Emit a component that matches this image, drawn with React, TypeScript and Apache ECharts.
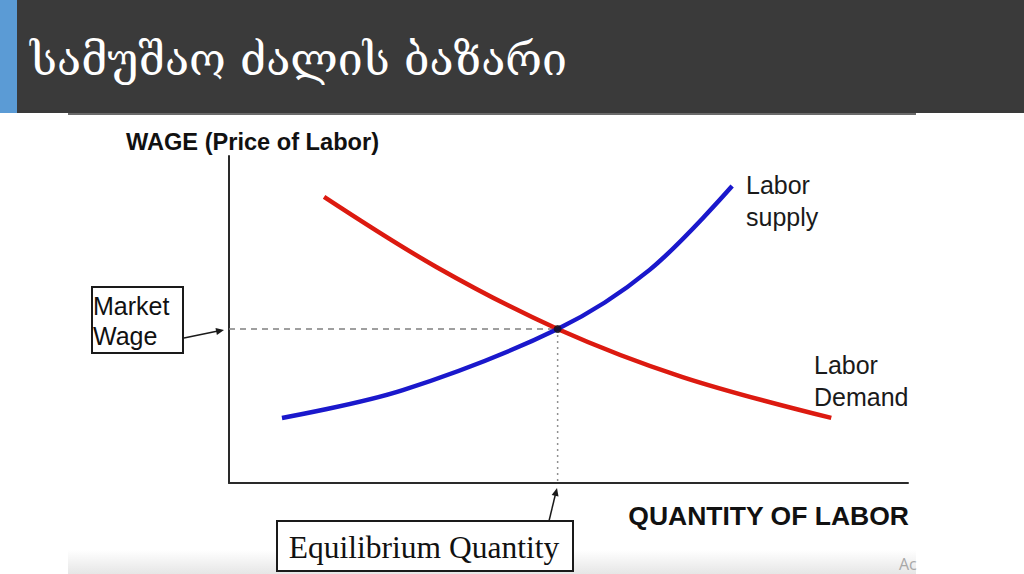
import React, { useEffect, useRef } from "react";
import * as echarts from "echarts";

const titleText = "სამუშაო ძალის ბაზარი";
const yAxisTitle = "WAGE (Price of Labor)";
const xAxisTitle = "QUANTITY OF LABOR";
const supplyLabel = ["Labor", "supply"];
const demandLabel = ["Labor", "Demand"];
const marketWageLabel = ["Market", "Wage"];
const eqQuantityLabel = "Equilibrium Quantity";
const watermark = "Ac";

const demandQty = [14.0, 30.6, 48.4, 66.8, 88.7];
const demandWage = [87.5, 66.0, 47.1, 32.4, 19.9];
const supplyQty = [7.8, 25.6, 48.4, 61.9, 74.1];
const supplyWage = [19.9, 28.4, 47.1, 65.1, 90.8];
const eqQty = 48.4;
const eqWage = 47.1;

const SANS = '"Liberation Sans", Arial, sans-serif';
const SERIF = '"Liberation Serif", "Times New Roman", serif';

export default function App() {
  const ref = useRef<HTMLDivElement>(null);
  useEffect(() => {
    if (!ref.current) return;
    const chart = echarts.init(ref.current, null, { renderer: "svg" });
    const zip = (xs: number[], ys: number[]) => xs.map((x, i) => [x, ys[i]]);
    const option: any = {
      animation: false,
      backgroundColor: "#ffffff",
      grid: { left: 229, top: 156, right: 116, bottom: 91, containLabel: false },
      xAxis: {
        type: "value",
        min: 0,
        max: 100,
        axisLine: { show: true, lineStyle: { color: "#2a2a2a", width: 2 } },
        axisTick: { show: false },
        axisLabel: { show: false },
        splitLine: { show: false },
      },
      yAxis: {
        type: "value",
        min: 0,
        max: 100,
        axisLine: { show: true, lineStyle: { color: "#2a2a2a", width: 2 } },
        axisTick: { show: false },
        axisLabel: { show: false },
        splitLine: { show: false },
      },
      series: [
        {
          type: "line",
          data: [[0, eqWage], [eqQty, eqWage]],
          symbol: "none",
          lineStyle: { color: "#808080", width: 1.5, type: [6, 5] },
          z: 1,
        },
        {
          type: "line",
          data: [[eqQty, eqWage], [eqQty, 0]],
          symbol: "none",
          lineStyle: { color: "#909090", width: 1.5, type: [2, 4] },
          z: 1,
        },
        {
          name: "Labor Demand",
          type: "line",
          data: zip(demandQty, demandWage),
          smooth: 0.35,
          symbol: "none",
          lineStyle: { color: "#dc1a10", width: 4.5, cap: "butt" },
          z: 3,
        },
        {
          name: "Labor supply",
          type: "line",
          data: zip(supplyQty, supplyWage),
          smooth: 0.35,
          symbol: "none",
          lineStyle: { color: "#1a18cc", width: 4.5, cap: "butt" },
          z: 4,
        },
        {
          type: "scatter",
          data: [[eqQty, eqWage]],
          symbolSize: 8,
          itemStyle: { color: "#111111" },
          z: 5,
        },
      ],
      graphic: [
        { type: "rect", shape: { x: 0, y: 0, width: 1024, height: 113 }, style: { fill: "#3a3a3a" }, z: 0 },
        { type: "rect", shape: { x: 0, y: 0, width: 17, height: 113 }, style: { fill: "#5b9bd5" }, z: 1 },
        { type: "rect", shape: { x: 68, y: 113, width: 848, height: 2 }, style: { fill: "#6a6a6a" }, z: 1 },
        {
          type: "text",
          x: 30,
          y: 60,
          style: {
            text: titleText,
            fill: "#ffffff",
            font: '44.6px "DejaVu Serif", serif',
            textVerticalAlign: "middle",
          },
          z: 2,
        },
        {
          type: "rect",
          shape: { x: 68, y: 550, width: 848, height: 24 },
          style: {
            fill: new echarts.graphic.LinearGradient(0, 0, 0, 1, [
              { offset: 0, color: "#ffffff" },
              { offset: 1, color: "#e6e6e6" },
            ]),
          },
          z: 0,
        },
        {
          type: "text",
          x: 899,
          y: 564,
          style: { text: watermark, fill: "#a8a8a8", font: '16px "Open Sans", sans-serif', textVerticalAlign: "middle" },
          z: 1,
        },
        {
          type: "text",
          x: 126,
          y: 142,
          style: { text: yAxisTitle, fill: "#111", font: "bold 23.6px " + SANS, textVerticalAlign: "middle" },
        },
        {
          type: "text",
          x: 909,
          y: 516,
          style: { text: xAxisTitle, fill: "#111", font: "bold 26.5px " + SANS, textAlign: "right", textVerticalAlign: "middle" },
        },
        {
          type: "text",
          x: 746,
          y: 201,
          style: { text: supplyLabel.join("\n"), fill: "#1a1a1a", font: "25px " + SANS, lineHeight: 32, textVerticalAlign: "middle" },
        },
        {
          type: "text",
          x: 814,
          y: 381,
          style: { text: demandLabel.join("\n"), fill: "#1a1a1a", font: "25px " + SANS, lineHeight: 32, textVerticalAlign: "middle" },
        },
        {
          type: "rect",
          shape: { x: 92, y: 287, width: 91, height: 66 },
          style: { fill: "#ffffff", stroke: "#1a1a1a", lineWidth: 2 },
        },
        {
          type: "text",
          x: 93,
          y: 321,
          style: { text: marketWageLabel.join("\n"), fill: "#111", font: "25px " + SANS, lineHeight: 30, textVerticalAlign: "middle" },
          z: 3,
        },
        { type: "line", shape: { x1: 184, y1: 338, x2: 218, y2: 331 }, style: { stroke: "#1a1a1a", lineWidth: 1.5 } },
        { type: "polygon", shape: { points: [[224, 330], [216.9, 335.0], [215.5, 328.1]] }, style: { fill: "#1a1a1a" } },
        {
          type: "rect",
          shape: { x: 277, y: 521, width: 296, height: 50 },
          style: { fill: "#ffffff", stroke: "#1a1a1a", lineWidth: 2 },
          z: 2,
        },
        {
          type: "text",
          x: 424,
          y: 547,
          style: { text: eqQuantityLabel, fill: "#111", font: "31.5px " + SERIF, textAlign: "center", textVerticalAlign: "middle" },
          z: 3,
        },
        { type: "line", shape: { x1: 549, y1: 521, x2: 555.5, y2: 494 }, style: { stroke: "#1a1a1a", lineWidth: 1.5 } },
        { type: "polygon", shape: { points: [[557, 488], [558.5, 496.6], [551.7, 495.0]] }, style: { fill: "#1a1a1a" } },
      ],
    };
    chart.setOption(option);
    return () => chart.dispose();
  }, []);
  return (
    <div
      ref={ref}
      style={{ position: "absolute", left: 0, top: 0, width: 1024, height: 574, background: "#ffffff" }}
    />
  );
}
